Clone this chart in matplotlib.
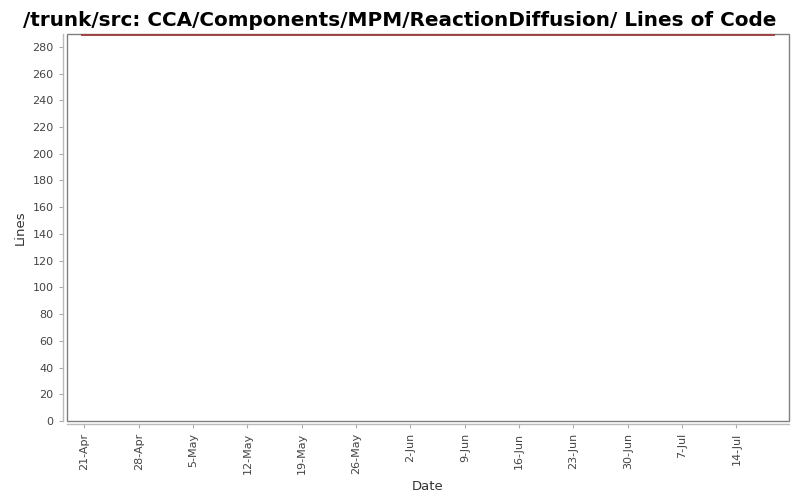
import matplotlib
matplotlib.use('Agg')
import matplotlib.pyplot as plt
import matplotlib.dates as mdates
import numpy as np
from matplotlib.patches import Rectangle

# DATA
dates = np.array(['2008-04-20T12:00', '2008-07-19T00:00'], dtype='datetime64[m]')
lines = [289, 289]
tick_dates = np.arange(np.datetime64('2008-04-21'), np.datetime64('2008-07-15'), 7)
yticks = list(range(0, 281, 20))

fig = plt.figure(figsize=(8, 5), dpi=100)
plt.rcParams.update({'font.family': 'DejaVu Sans'})

ax = fig.add_axes([66.7/800, 79/500, (788.5-66.7)/800, (421-34)/500])

ax.plot(dates.astype(object), lines, color='#9e3b3b', linewidth=1.3,
        solid_capstyle='butt', zorder=5, clip_on=False)

# FORMATTING
ax.set_xlim(np.datetime64('2008-04-21') - np.timedelta64(55, 'h'),
            np.datetime64('2008-04-21') + np.timedelta64(2177, 'h'))
ax.set_ylim(0, 289.6)

ax.set_yticks(yticks)
ax.set_xticks(tick_dates.astype(object))
ax.xaxis.set_major_formatter(mdates.DateFormatter('%-d-%b'))

ax.tick_params(axis='both', labelsize=8, colors='#444444', length=3, width=0.8)
ax.tick_params(axis='both', color='#aaaaaa')
ax.tick_params(axis='x', labelrotation=90)

for s in ['top', 'right']:
    ax.spines[s].set_visible(False)
for s in ['left', 'bottom']:
    ax.spines[s].set_color('#bbbbbb')
    ax.spines[s].set_linewidth(1.0)
ax.spines['left'].set_position(('outward', 3))
ax.spines['bottom'].set_position(('outward', 2.2))

# plot outline box
ax.add_patch(Rectangle((0, 0), 1, 1, transform=ax.transAxes, fill=False,
                       edgecolor='#808080', linewidth=1.0, clip_on=False, zorder=3))

ax.set_xlabel('Date', fontsize=9.5, color='#333333')
ax.set_ylabel('Lines', fontsize=9.5, color='#333333')
fig.text(0.5, 0.978, '/trunk/src: CCA/Components/MPM/ReactionDiffusion/ Lines of Code',
         ha='center', va='top', fontsize=14.4, fontweight='bold')

fig.savefig('out.png', dpi=100)
